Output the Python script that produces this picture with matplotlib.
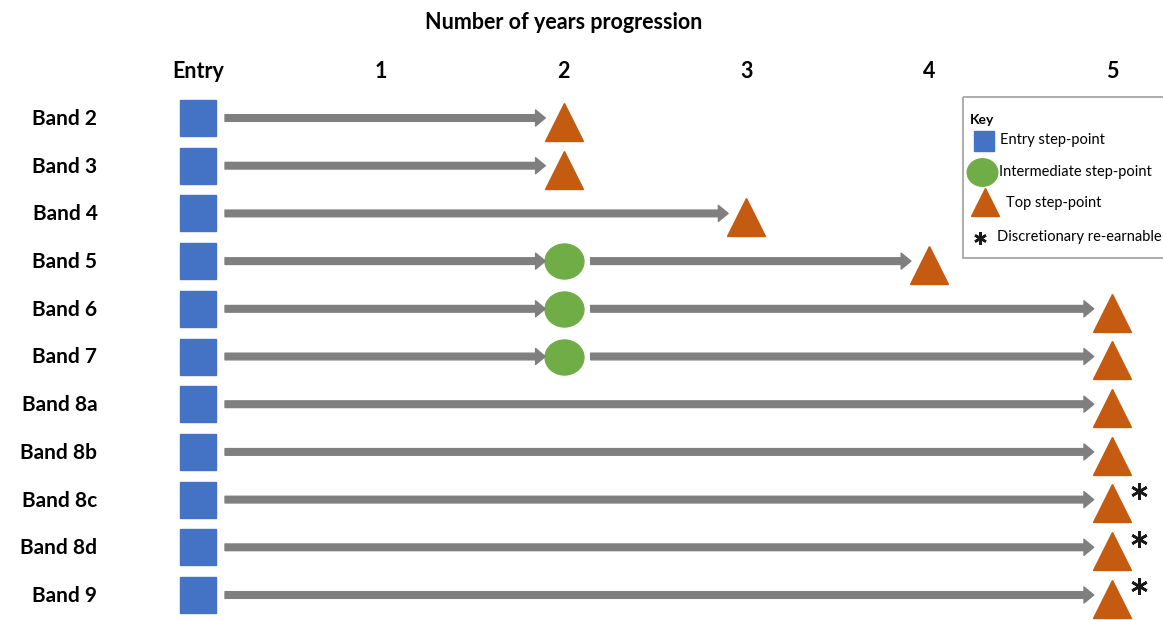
import matplotlib
matplotlib.use('Agg')
import matplotlib.pyplot as plt
from matplotlib.patches import Rectangle
from matplotlib.path import Path
from matplotlib.transforms import Affine2D

plt.rcParams['font.family'] = ['Lato', 'DejaVu Sans']

# data
bands = ['Band 2', 'Band 3', 'Band 4', 'Band 5', 'Band 6', 'Band 7',
         'Band 8a', 'Band 8b', 'Band 8c', 'Band 8d', 'Band 9']
entry_year = [0, 0, 0, 0, 0, 0, 0, 0, 0, 0, 0]
mid_year = [None, None, None, 2, 2, 2, None, None, None, None, None]
top_year = [2, 2, 3, 4, 5, 5, 5, 5, 5, 5, 5]
discretionary = [False] * 8 + [True] * 3
col_labels = ['Entry', '1', '2', '3', '4', '5']
col_pos = [0, 1, 2, 3, 4, 5]
key_labels = ['Entry step-point', 'Intermediate step-point', 'Top step-point',
              'Discretionary re-earnable']

blue = '#4472c4'
green = '#70ad47'
orange = '#c55a11'
grey = '#7f7f7f'

# slightly flattened circle for the intermediate point
ellipse = Path.unit_circle().transformed(Affine2D().scale(1.0, 0.9))

fig = plt.figure(figsize=(11.63, 6.2), dpi=100)
ax = fig.add_axes([0, 0, 1, 1])
ax.set_xlim(-1.083, 5.279)
ax.set_ylim(10.524, -2.474)
ax.axis('off')

gap_start = 0.148
gap_end = 0.10

def arrow(x0, x1, y):
    ax.annotate('', xy=(x1 - gap_end, y), xytext=(x0 + gap_start, y),
                arrowprops=dict(arrowstyle='simple,head_width=11.5,head_length=7,tail_width=4.8',
                                mutation_scale=1, color=grey, shrinkA=0, shrinkB=0))

for i, b in enumerate(bands):
    ax.text(-0.55, i + 0.02, b, ha='right', va='center', fontsize=15, fontweight='bold')
    if mid_year[i] is not None:
        arrow(entry_year[i], mid_year[i], i)
        arrow(mid_year[i], top_year[i], i)
        ax.plot(mid_year[i], i, marker=ellipse, ms=28, color=green, ls='none')
    else:
        arrow(entry_year[i], top_year[i], i)
    ax.plot(entry_year[i], i, marker='s', ms=26, color=blue, ls='none')
    ax.plot(top_year[i], i + 0.08, marker='^', ms=27, color=orange, ls='none')
    if discretionary[i]:
        ax.plot(top_year[i] + 0.148, i - 0.18, marker=(6, 2, 0), ms=12, mew=1.9,
                color='#1a1a1a', ls='none')

for lab, x in zip(col_labels, col_pos):
    ax.text(x, -0.97, lab, ha='center', va='center', fontsize=15.5, fontweight='bold')

ax.text(2, -2.01, 'Number of years progression', ha='center', va='center',
        fontsize=15.5, fontweight='bold')

# key box, laid out in pixel coordinates on an overlay axes
kax = fig.add_axes([0, 0, 1, 1])
kax.set_xlim(0, 1163)
kax.set_ylim(620, 0)
kax.axis('off')
kax.add_patch(Rectangle((963, 97), 215, 161, fill=False, edgecolor='#a6a6a6', lw=1.3))
kax.text(970, 120, 'Key', ha='left', va='center', fontsize=10, fontweight='bold')
kax.plot(984, 141, marker='s', ms=14, color=blue, ls='none')
kax.plot(982, 172, marker=ellipse, ms=22, color=green, ls='none')
kax.plot(985, 202, marker='^', ms=20, color=orange, ls='none')
kax.plot(980, 238, marker=(6, 2, 0), ms=9, mew=1.8, color='#1a1a1a', ls='none')
key_x = [1000, 999, 1006, 997]
key_y = [140, 172, 203, 237]
for lab, x, y in zip(key_labels, key_x, key_y):
    kax.text(x, y, lab, ha='left', va='center', fontsize=10.5)

fig.savefig('out.png', dpi=100)
